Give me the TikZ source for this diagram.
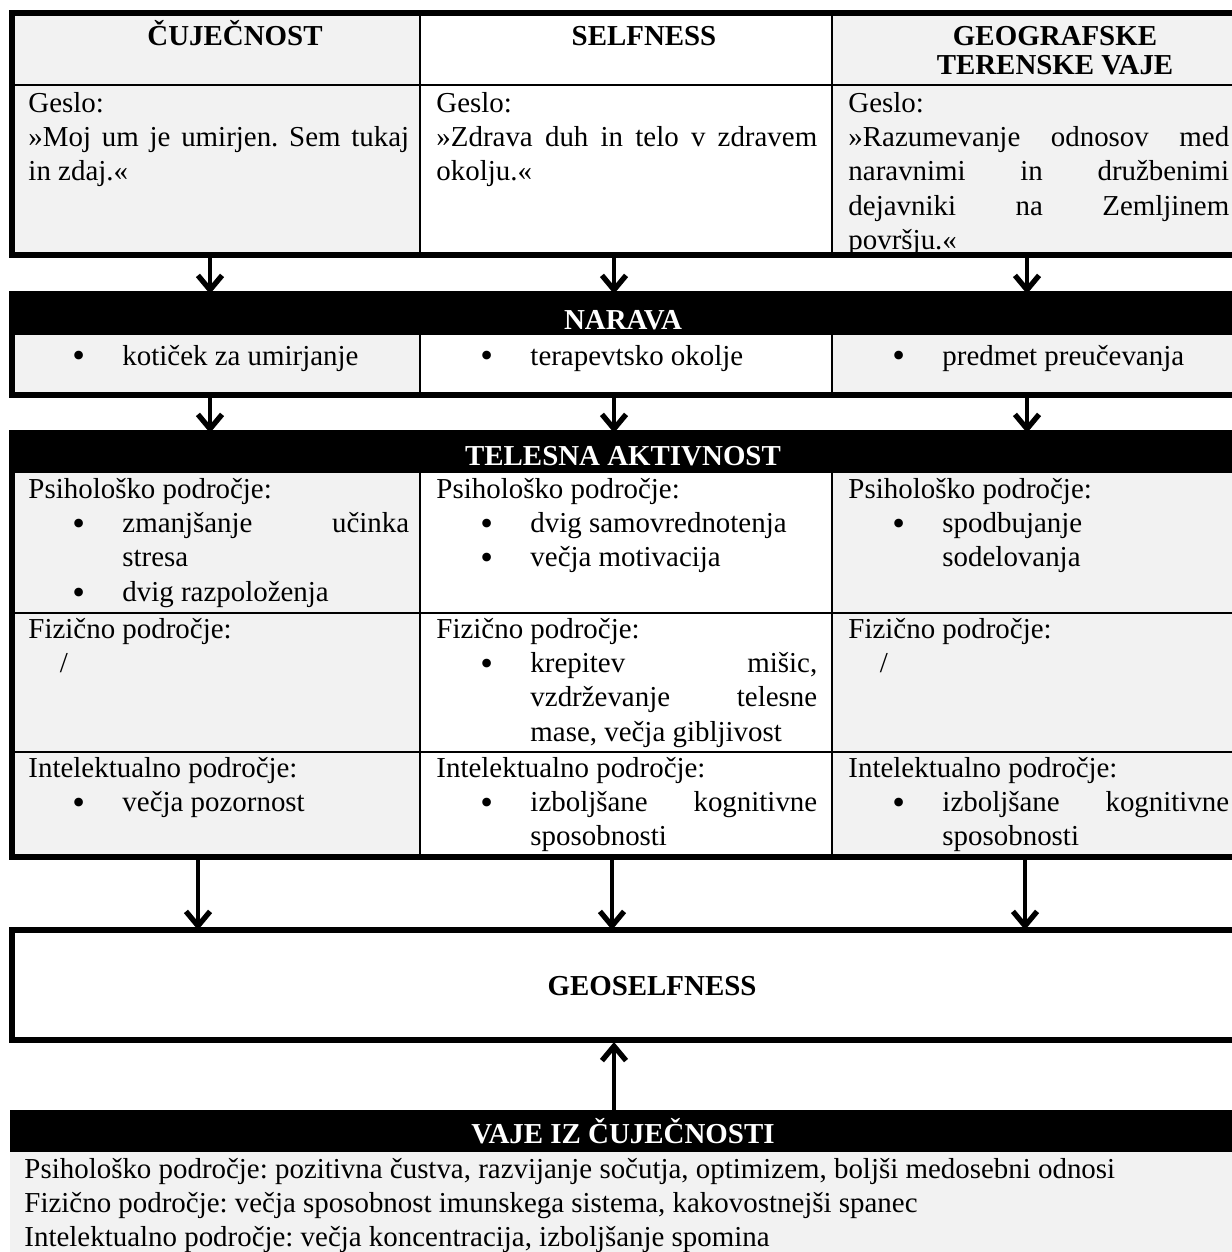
\documentclass[tikz,border=0pt]{standalone}
\usepackage{fontspec}
\setmainfont{Liberation Serif}
\usetikzlibrary{arrows.meta}

\definecolor{cellgrey}{HTML}{F2F2F2}
\newlength{\colw}\setlength{\colw}{158pt}
\newcommand{\bitem}{\par\leftskip=39pt\noindent\llap{\raisebox{-0.2ex}{\fontsize{15pt}{15pt}\selectfont\textbullet}\hspace{15.5pt}}}
\tolerance=10000
\hyphenpenalty=10000
\frenchspacing

\begin{document}
\begin{tikzpicture}[x=0.415pt, y=-0.415pt,
    frame/.style={line width=2.1pt},
    grid/.style={line width=0.8pt},
    cell/.style={anchor=base west, inner sep=0pt, font=\fontsize{12pt}{14.3pt}\selectfont},
    head/.style={anchor=base, inner sep=0pt, font=\fontsize{12pt}{14.3pt}\selectfont\bfseries},
    bandtxt/.style={head, text=white},
    arr/.style={line width=1.5pt, -{Straight Barb[length=6pt,width=10pt,line width=2.2pt]}}
]
\useasboundingbox (0,0) rectangle (1232,1252);
\fill[white] (0,0) rectangle (1232,1252);

% top table
\fill[cellgrey] (12,13) rectangle (420,255);
\fill[cellgrey] (832,13) rectangle (1237,255);
\draw[grid] (12,85) -- (1237,85);
\draw[grid] (420,13) -- (420,255);
\draw[grid] (832,13) -- (832,255);
\draw[frame] (12,13) rectangle (1237,255);

\node[head] (cuj)  at (235,45)  {ČUJEČNOST};
\node[head] (self) at (644,45)  {SELFNESS};
\node[head] (geo)  at (1055,45) {\parbox[t]{200pt}{\centering GEOGRAFSKE\\[-2pt]TERENSKE VAJE}};

\node[cell] (gcuj)  at (28,112)  {\parbox[t]{\colw}{Geslo:\par »Moj um je umirjen. Sem tukaj\linebreak in zdaj.«}};
\node[cell] (gself) at (436,112) {\parbox[t]{\colw}{Geslo:\par »Zdrava duh in telo v zdravem\linebreak okolju.«}};
\node[cell] (ggeo)  at (848,112) {\parbox[t]{\colw}{Geslo:\par »Razumevanje odnosov med\linebreak naravnimi in družbenimi\linebreak dejavniki na Zemljinem\linebreak površju.«}};

% narava
\fill[black] (10,294) rectangle (1237,335);
\fill[cellgrey] (12,335) rectangle (420,395);
\fill[cellgrey] (832,335) rectangle (1237,395);
\draw[grid] (420,335) -- (420,395);
\draw[grid] (832,335) -- (832,395);
\draw[frame] (12,294) rectangle (1237,395);
\node[bandtxt] (narava) at (623,329) {NARAVA};

\node[cell] (ncuj)  at (28,365)  {\parbox[t]{\colw}{\bitem kotiček za umirjanje}};
\node[cell] (nself) at (436,365) {\parbox[t]{\colw}{\bitem terapevtsko okolje}};
\node[cell] (ngeo)  at (848,365) {\parbox[t]{\colw}{\bitem predmet preučevanja}};

% telesna aktivnost
\fill[black] (10,433) rectangle (1237,473);
\fill[cellgrey] (12,473) rectangle (420,857);
\fill[cellgrey] (832,473) rectangle (1237,857);
\draw[grid] (12,613) -- (1237,613);
\draw[grid] (12,752) -- (1237,752);
\draw[grid] (420,473) -- (420,857);
\draw[grid] (832,473) -- (832,857);
\draw[frame] (12,433) rectangle (1237,857);
\node[bandtxt] (telesna) at (623,465) {TELESNA AKTIVNOST};

\node[cell] (pcuj)  at (28,498)  {\parbox[t]{\colw}{Psihološko področje:\bitem zmanjšanje učinka\linebreak stresa\bitem dvig razpoloženja}};
\node[cell] (pself) at (436,498) {\parbox[t]{\colw}{Psihološko področje:\bitem dvig samovrednotenja\bitem večja motivacija}};
\node[cell] (pgeo)  at (848,498) {\parbox[t]{\colw}{Psihološko področje:\bitem spodbujanje\newline sodelovanja}};

\node[cell] (fcuj)  at (28,638)  {\parbox[t]{\colw}{Fizično področje:\par\hspace*{13pt}/}};
\node[cell] (fself) at (436,638) {\parbox[t]{\colw}{Fizično področje:\bitem krepitev mišic,\linebreak vzdrževanje telesne\linebreak mase, večja gibljivost}};
\node[cell] (fgeo)  at (848,638) {\parbox[t]{\colw}{Fizično področje:\par\hspace*{13pt}/}};

\node[cell] (icuj)  at (28,777)  {\parbox[t]{\colw}{Intelektualno področje:\bitem večja pozornost}};
\node[cell] (iself) at (436,777) {\parbox[t]{\colw}{Intelektualno področje:\bitem izboljšane kognitivne\linebreak sposobnosti}};
\node[cell] (igeo)  at (848,777) {\parbox[t]{\colw}{Intelektualno področje:\bitem izboljšane kognitivne\linebreak sposobnosti}};

% geoselfness
\draw[frame, fill=white] (12,930) rectangle (1237,1040);
\node[head] (geoself) at (652,995) {GEOSELFNESS};

% vaje iz cuječnosti
\fill[black] (10,1110) rectangle (1237,1152);
\fill[cellgrey] (10,1152) rectangle (1237,1260);
\node[bandtxt] (vaje) at (623,1143) {VAJE IZ ČUJEČNOSTI};
\node[cell] (vtxt) at (24,1178) {\parbox[t]{480pt}{Psihološko področje: pozitivna čustva, razvijanje sočutja, optimizem, boljši medosebni odnosi\\
Fizično področje: večja sposobnost imunskega sistema, kakovostnejši spanec\\
Intelektualno področje: večja koncentracija, izboljšanje spomina}};

% arrow ends
\coordinate (t1) at (210,257);  \coordinate (n1) at (210,294);
\coordinate (t2) at (614,257);  \coordinate (n2) at (614,294);
\coordinate (t3) at (1027,257); \coordinate (n3) at (1027,294);
\coordinate (m1) at (210,397);  \coordinate (k1) at (210,433);
\coordinate (m2) at (614,397);  \coordinate (k2) at (614,433);
\coordinate (m3) at (1027,397); \coordinate (k3) at (1027,433);
\coordinate (b1) at (198,859);  \coordinate (g1) at (198,930);
\coordinate (b2) at (612,859);  \coordinate (g2) at (612,930);
\coordinate (b3) at (1025,859); \coordinate (g3) at (1025,930);
\coordinate (v0) at (614,1110); \coordinate (g0) at (614,1042);

\draw[arr] (t1) -- (n1);
\draw[arr] (t2) -- (n2);
\draw[arr] (t3) -- (n3);
\draw[arr] (m1) -- (k1);
\draw[arr] (m2) -- (k2);
\draw[arr] (m3) -- (k3);
\draw[arr] (b1) -- (g1);
\draw[arr] (b2) -- (g2);
\draw[arr] (b3) -- (g3);
\draw[arr] (v0) -- (g0);
\end{tikzpicture}
\end{document}
